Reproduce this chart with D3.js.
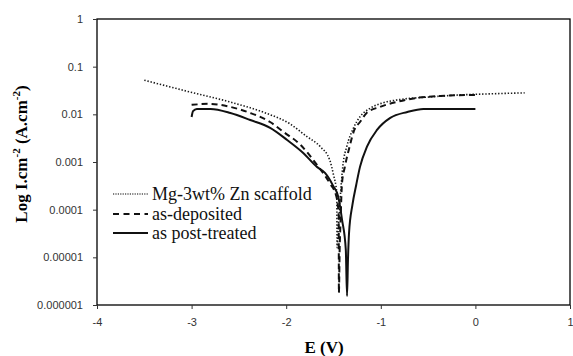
<!DOCTYPE html>
<html>
<head>
<meta charset="utf-8">
<script src="https://cdn.jsdelivr.net/npm/d3@7/dist/d3.min.js"></script>
<style>
  html, body { margin: 0; padding: 0; background: #fff; }
  svg { display: block; }
</style>
</head>
<body>
<svg id="chart" width="573" height="356"></svg>
<script>
// ---- Data (E in V, current density in A/cm2) ----
const scaffoldE = [-3.50, -3.02, -2.56, -2.22, -1.96, -1.78, -1.64, -1.54, -1.50, -1.465, -1.462, -1.45, -1.43, -1.40, -1.36, -1.29, -1.22, -1.11, -0.98, -0.83, -0.48, -0.13, 0.15, 0.52];
const scaffoldI = [0.052, 0.0295, 0.0174, 0.0107, 0.0063, 0.0034, 0.0021, 0.0011, 0.00054, 0.00022, 0.000016, 0.000038, 0.00016, 0.00087, 0.0021, 0.0051, 0.0089, 0.0135, 0.0174, 0.020, 0.0232, 0.0257, 0.0269, 0.0282];

const depositedE = [-3.00, -2.81, -2.59, -2.38, -2.17, -2.03, -1.85, -1.675, -1.54, -1.47, -1.445, -1.443, -1.435, -1.425, -1.41, -1.38, -1.33, -1.28, -1.22, -1.15, -1.01, -0.83, -0.62, -0.37, 0.00];
const depositedI = [0.0158, 0.0166, 0.0143, 0.0107, 0.0069, 0.0043, 0.0023, 0.00087, 0.00036, 0.00019, 0.000078, 0.0000018, 0.0000145, 0.000062, 0.00036, 0.00079, 0.0021, 0.0047, 0.0069, 0.0107, 0.0143, 0.0182, 0.0221, 0.0243, 0.0255];

const treatedE = [-3.00, -2.985, -2.945, -2.80, -2.59, -2.38, -2.17, -1.99, -1.82, -1.675, -1.59, -1.505, -1.45, -1.41, -1.37, -1.357, -1.347, -1.336, -1.30, -1.26, -1.22, -1.146, -1.04, -0.90, -0.72, -0.55, -0.30, 0.00];
const treatedI = [0.0088, 0.0117, 0.0130, 0.0130, 0.0107, 0.0076, 0.0052, 0.0029, 0.00155, 0.00079, 0.00059, 0.00032, 0.000186, 0.000062, 0.0000145, 0.00000155, 0.0000089, 0.000032, 0.000126, 0.00033, 0.00079, 0.0021, 0.0047, 0.0084, 0.0112, 0.0130, 0.0130, 0.0130];

const seriesNames = ["Mg-3wt% Zn scaffold", "as-deposited", "as post-treated"];
const xTicks = [-4, -3, -2, -1, 0, 1];
const yTicks = [1, 0.1, 0.01, 0.001, 0.0001, 0.00001, 0.000001];
const yTickLabels = ["1", "0.1", "0.01", "0.001", "0.0001", "0.00001", "0.000001"];

// ---- Layout ----
const svg = d3.select("#chart");
const L = 97, R = 570, T = 19, B = 305;
const x = d3.scaleLinear().domain([-4, 1]).range([L, R]);
const y = d3.scaleLog().domain([1e-6, 1]).range([B, T]);

const series = [
  { name: seriesNames[0], E: scaffoldE, I: scaffoldI, dash: "1.4,1.8", width: 1.6, color: "#1a1a1a", legendColor: "#555" },
  { name: seriesNames[1], E: depositedE, I: depositedI, dash: "6,4", width: 2, color: "#111", legendColor: "#111" },
  { name: seriesNames[2], E: treatedE, I: treatedI, dash: null, width: 2, color: "#111", legendColor: "#111" }
];

const line = d3.line()
  .x(d => x(d[0]))
  .y(d => y(d[1]))
  .curve(d3.curveMonotoneX);

// Curves
series.forEach(s => {
  const pts = s.E.map((e, i) => [e, s.I[i]]);
  svg.append("path")
    .datum(pts)
    .attr("d", line)
    .attr("fill", "none")
    .attr("stroke", s.color)
    .attr("stroke-width", s.width)
    .attr("stroke-dasharray", s.dash)
    .attr("stroke-linejoin", "round");
});

// Frame
svg.append("rect")
  .attr("x", L).attr("y", T)
  .attr("width", R - L).attr("height", B - T)
  .attr("fill", "none")
  .attr("stroke", "#000")
  .attr("stroke-width", 1.3);

// Axes
const yAxis = d3.axisLeft(y)
  .tickValues(yTicks)
  .tickFormat((d, i) => yTickLabels[i])
  .tickSize(4)
  .tickPadding(10);
const gy = svg.append("g").attr("transform", `translate(${L},0)`).call(yAxis);

const xAxis = d3.axisBottom(x)
  .tickValues(xTicks)
  .tickFormat(d3.format("d"))
  .tickSize(4)
  .tickPadding(9);
const gx = svg.append("g").attr("transform", `translate(0,${B})`).call(xAxis);

[gx, gy].forEach(g => {
  g.select(".domain").remove();
  g.selectAll(".tick line").attr("stroke", "#333").attr("stroke-width", 1);
  g.selectAll(".tick text")
    .attr("font-family", "'Liberation Sans', Arial, sans-serif")
    .attr("font-size", 11)
    .attr("fill", "#333");
});
gx.selectAll(".tick text").text(d => d < 0 ? "-" + Math.abs(d) : String(d));

// Axis titles
svg.append("text")
  .attr("x", 324).attr("y", 353)
  .attr("text-anchor", "middle")
  .attr("font-family", "'Liberation Serif', 'Times New Roman', serif")
  .attr("font-weight", "bold")
  .attr("font-size", 17)
  .attr("fill", "#000")
  .text("E (V)");

const yl = svg.append("text")
  .attr("transform", "translate(27,154) rotate(-90)")
  .attr("text-anchor", "middle")
  .attr("font-family", "'Liberation Serif', 'Times New Roman', serif")
  .attr("font-weight", "bold")
  .attr("font-size", 17)
  .attr("fill", "#000");
yl.append("tspan").text("Log I.cm");
yl.append("tspan").attr("font-size", 11).attr("dy", -7).text("-2");
yl.append("tspan").attr("dy", 7).text(" (A.cm");
yl.append("tspan").attr("font-size", 11).attr("dy", -7).text("-2");
yl.append("tspan").attr("dy", 7).text(")");

// Legend
const legendY = [194, 214, 233];
series.forEach((s, i) => {
  svg.append("line")
    .attr("x1", 113).attr("x2", 148)
    .attr("y1", legendY[i]).attr("y2", legendY[i])
    .attr("stroke", s.legendColor)
    .attr("stroke-width", i === 0 ? 1.3 : 2)
    .attr("stroke-dasharray", i === 0 ? "1.2,1.2" : (i === 1 ? "6,4.5" : null));
  svg.append("text")
    .attr("x", 152).attr("y", legendY[i])
    .attr("dy", "0.33em")
    .attr("font-family", "'Liberation Serif', 'Times New Roman', serif")
    .attr("font-size", 18)
    .attr("fill", "#111")
    .text(s.name);
});
</script>
</body>
</html>
